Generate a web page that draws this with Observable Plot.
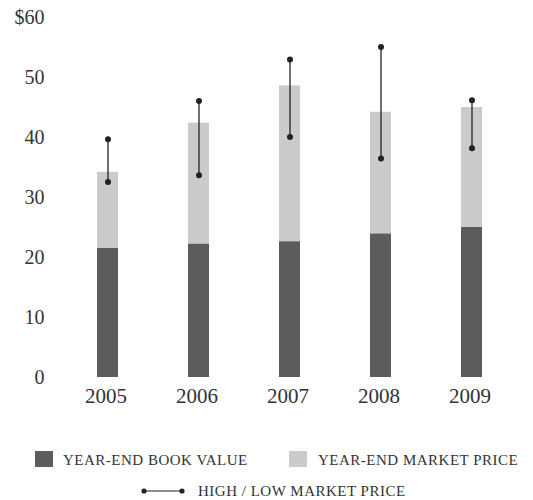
<!DOCTYPE html>
<html>
<head>
<meta charset="utf-8">
<script src="https://cdn.jsdelivr.net/npm/d3@7"></script>
<script src="https://cdn.jsdelivr.net/npm/@observablehq/plot@0.6"></script>
<style>
  html, body { margin: 0; padding: 0; background: #fff; }
  #wrap { position: relative; width: 533px; height: 500px; font-family: "Liberation Serif", "DejaVu Serif", serif; color: #333; }
  .leg { position: absolute; font-size: 15px; letter-spacing: 0.5px; white-space: nowrap; line-height: 16px; }
  .sw { position: absolute; width: 18px; height: 16px; }
</style>
</head>
<body>
<div id="wrap">
  <div id="chart"></div>
</div>
<script>
const years = ["2005", "2006", "2007", "2008", "2009"];
const bookValue = [21.5, 22.2, 22.6, 23.9, 25.0];
const marketPrice = [34.2, 42.4, 48.6, 44.2, 45.0];
const highPrice = [39.7, 46.1, 53.0, 55.1, 46.2];
const lowPrice = [32.6, 33.7, 40.1, 36.5, 38.2];
const yTicks = [0, 10, 20, 30, 40, 50, 60];
const legendLabels = ["YEAR-END BOOK VALUE", "YEAR-END MARKET PRICE", "HIGH / LOW MARKET PRICE"];

const darkFill = "#5c5c5c";
const lightFill = "#cbcbcb";
const ink = "#222";

const rows = years.map((y, i) => ({
  year: y, book: bookValue[i], market: marketPrice[i], high: highPrice[i], low: lowPrice[i]
}));

const chart = Plot.plot({
  width: 533,
  height: 420,
  marginTop: 17,
  marginBottom: 43,
  marginLeft: 50,
  marginRight: 4,
  style: { fontFamily: "'Liberation Serif', 'DejaVu Serif', serif", color: "#333", background: "#fff" },
  x: { domain: years, paddingInner: 0.77, paddingOuter: 0.5, label: null },
  y: { domain: [0, 60], label: null },
  marks: [
    Plot.axisY({ ticks: yTicks, tickSize: 0, tickPadding: 6, fontSize: 20,
      tickFormat: d => d === 60 ? "$60" : String(d), label: null }),
    Plot.axisX({ tickSize: 0, tickPadding: 11, fontSize: 21, dx: -2, label: null }),
    Plot.barY(rows, { x: "year", y1: 0, y2: "market", fill: lightFill }),
    Plot.barY(rows, { x: "year", y1: 0, y2: "book", fill: darkFill }),
    Plot.ruleX(rows, { x: "year", y1: "low", y2: "high", stroke: ink, strokeWidth: 1.3 }),
    Plot.dot(rows, { x: "year", y: "high", r: 3, fill: ink, stroke: null }),
    Plot.dot(rows, { x: "year", y: "low", r: 3, fill: ink, stroke: null })
  ]
});
document.getElementById("chart").appendChild(chart);

// Legend
const wrap = document.getElementById("wrap");
function add(html) { const t = document.createElement("div"); t.innerHTML = html; wrap.appendChild(t.firstElementChild); }
add(`<div class="sw" style="left:35px; top:451px; background:${darkFill}"></div>`);
add(`<div class="leg" style="left:63px; top:452px">${legendLabels[0]}</div>`);
add(`<div class="sw" style="left:289px; top:451px; background:${lightFill}"></div>`);
add(`<div class="leg" style="left:318px; top:452px">${legendLabels[1]}</div>`);
add(`<svg style="position:absolute; left:140px; top:484px" width="46" height="14">
  <line x1="4" y1="7" x2="42" y2="7" stroke="${ink}" stroke-width="1.2"/>
  <circle cx="4" cy="7" r="2.6" fill="${ink}"/><circle cx="42" cy="7" r="2.6" fill="${ink}"/></svg>`);
add(`<div class="leg" style="left:198px; top:483px">${legendLabels[2]}</div>`);
</script>
</body>
</html>
